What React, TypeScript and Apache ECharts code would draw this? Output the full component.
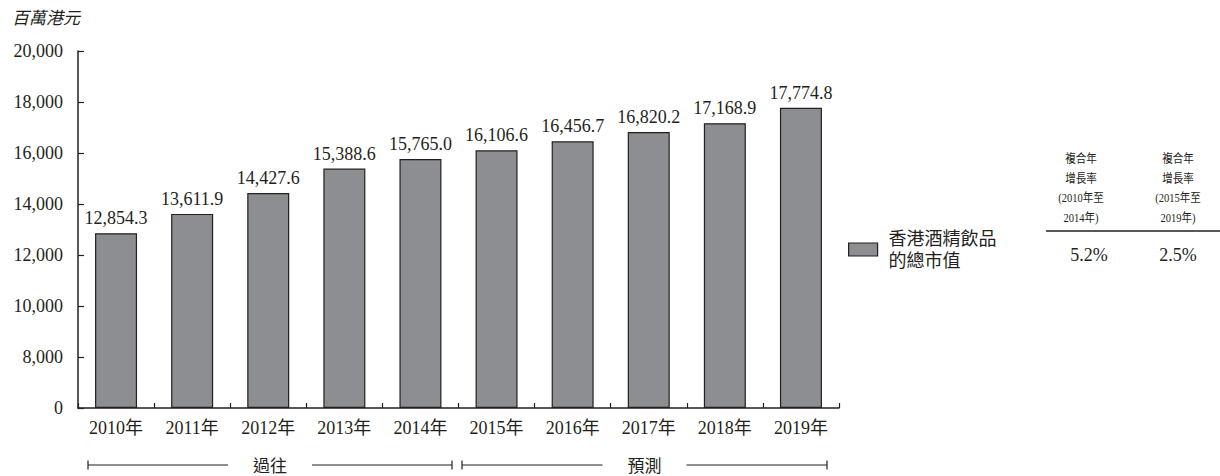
import React, { useEffect, useRef } from "react";
import * as echarts from "echarts";

const categories = ["2010年", "2011年", "2012年", "2013年", "2014年", "2015年", "2016年", "2017年", "2018年", "2019年"];
const values = [12854.3, 13611.9, 14427.6, 15388.6, 15765.0, 16106.6, 16456.7, 16820.2, 17168.9, 17774.8];
const yTickValues = [0, 8000, 10000, 12000, 14000, 16000, 18000, 20000];
const seriesName = "香港酒精飲品\n的總市值";
const unitLabel = "百萬港元";
const cagrHeaders = [
  ["複合年", "增長率", "(2010年至", "2014年)"],
  ["複合年", "增長率", "(2015年至", "2019年)"],
];
const cagrValues = ["5.2%", "2.5%"];
const periodLabels = ["過往", "預測"];

// broken axis: 0 then 8,000 onwards, each tick one step
const BREAK_OFFSET = 6000;
const toAxis = (v: number) => (v >= 8000 ? v - BREAK_OFFSET : v / 4);

const fmt = (n: number, d = 0) => {
  const s = n.toFixed(d);
  const [i, f] = s.split(".");
  const ii = i.replace(/\B(?=(\d{3})+(?!\d))/g, ",");
  return f !== undefined ? ii + "." + f : ii;
};

const TEXT = "#231f20";
const SERIF = '"Liberation Serif", "Times New Roman", "Noto Sans CJK TC", serif';
const CJK = '"Noto Sans CJK TC", "Liberation Serif", serif';

export default function App() {
  const ref = useRef<HTMLDivElement>(null);
  useEffect(() => {
    const chart = echarts.init(ref.current!, null, { renderer: "svg" });
    const bracket = (x1: number, x2: number, label: string, gapL: number, gapR: number) => {
      const y = 465;
      const mid = (x1 + x2) / 2;
      const ls = { stroke: TEXT, lineWidth: 1.2 };
      return [
        { type: "line", shape: { x1, y1: y, x2: mid - gapL, y2: y }, style: ls },
        { type: "line", shape: { x1: mid + gapR, y1: y, x2, y2: y }, style: ls },
        { type: "line", shape: { x1, y1: y - 4.5, x2: x1, y2: y + 4.5 }, style: ls },
        { type: "line", shape: { x1: x2, y1: y - 4.5, x2, y2: y + 4.5 }, style: ls },
        {
          type: "text",
          x: mid,
          y: y - 1,
          style: { text: label, fill: TEXT, font: `17px ${CJK}`, align: "center", verticalAlign: "middle" },
        },
      ];
    };
    const tableTexts: any[] = [];
    const colX = [1081, 1178];
    cagrHeaders.forEach((lines, ci) => {
      lines.forEach((t, li) => {
        tableTexts.push({
          type: "text",
          x: colX[ci],
          y: 159 + li * 19.5,
          scaleX: 0.88,
          style: { text: t, fill: TEXT, font: `12px ${SERIF}`, align: "center", verticalAlign: "middle" },
        });
      });
    });
    const valX = [1089, 1178];
    cagrValues.forEach((t, ci) => {
      tableTexts.push({
        type: "text",
        x: valX[ci],
        y: 255,
        style: { text: t, fill: TEXT, font: `18px ${SERIF}`, align: "center", verticalAlign: "middle" },
      });
    });
    tableTexts.push({
      type: "line",
      shape: { x1: 1046, y1: 231, x2: 1220, y2: 231 },
      style: { stroke: TEXT, lineWidth: 1.5 },
    });

    chart.setOption({
      animation: false,
      grid: { left: 78, right: 381, top: 51, bottom: 68, containLabel: false },
      legend: {
        left: 848,
        top: 215,
        padding: 0,
        itemWidth: 29,
        itemHeight: 13,
        icon: "rect",
        data: [seriesName],
        textStyle: {
          color: TEXT,
          fontFamily: SERIF,
          fontSize: 18,
          lineHeight: 22,
          padding: [25, 0, 0, 6],
        },
        itemStyle: { color: "#8d8e91", borderColor: TEXT, borderWidth: 1.2 },
        selectedMode: false,
      },
      xAxis: {
        type: "category",
        data: categories,
        axisLine: { show: true, lineStyle: { color: TEXT, width: 1.5 } },
        axisTick: { show: true, inside: true, length: 5, alignWithLabel: false, lineStyle: { color: TEXT, width: 1.2 } },
        axisLabel: { color: TEXT, fontFamily: SERIF, fontSize: 18, margin: 11 },
      },
      yAxis: {
        type: "value",
        min: 0,
        max: toAxis(20000),
        interval: 2000,
        splitLine: { show: false },
        axisLine: { show: true, lineStyle: { color: TEXT, width: 1.5 } },
        axisTick: { show: true, inside: true, length: 6, lineStyle: { color: TEXT, width: 1.2 } },
        axisLabel: {
          color: TEXT,
          fontFamily: SERIF,
          fontSize: 18,
          margin: 15,
          formatter: (v: number) => {
            const match = yTickValues.find((t) => toAxis(t) === v);
            return match === undefined ? "" : fmt(match);
          },
        },
      },
      series: [
        {
          name: seriesName,
          type: "bar",
          barWidth: 42,
          data: values.map(toAxis),
          itemStyle: { color: "#8d8e91", borderColor: TEXT, borderWidth: 1.2 },
          label: {
            show: true,
            position: "top",
            distance: 6,
            color: TEXT,
            fontFamily: SERIF,
            fontSize: 18,
            formatter: (p: any) => fmt(values[p.dataIndex], 1),
          },
        },
      ],
      graphic: [
        {
          type: "text",
          left: 12,
          top: 8,
          style: { text: unitLabel, fill: TEXT, font: `italic 17px ${CJK}` },
        },
        ...bracket(88, 452, periodLabels[0], 42, 42),
        ...bracket(462, 827, periodLabels[1], 42, 42),
        ...tableTexts,
      ],
    });
    return () => chart.dispose();
  }, []);
  return <div ref={ref} style={{ position: "absolute", left: 0, top: 0, width: 1220, height: 476 }} />;
}
